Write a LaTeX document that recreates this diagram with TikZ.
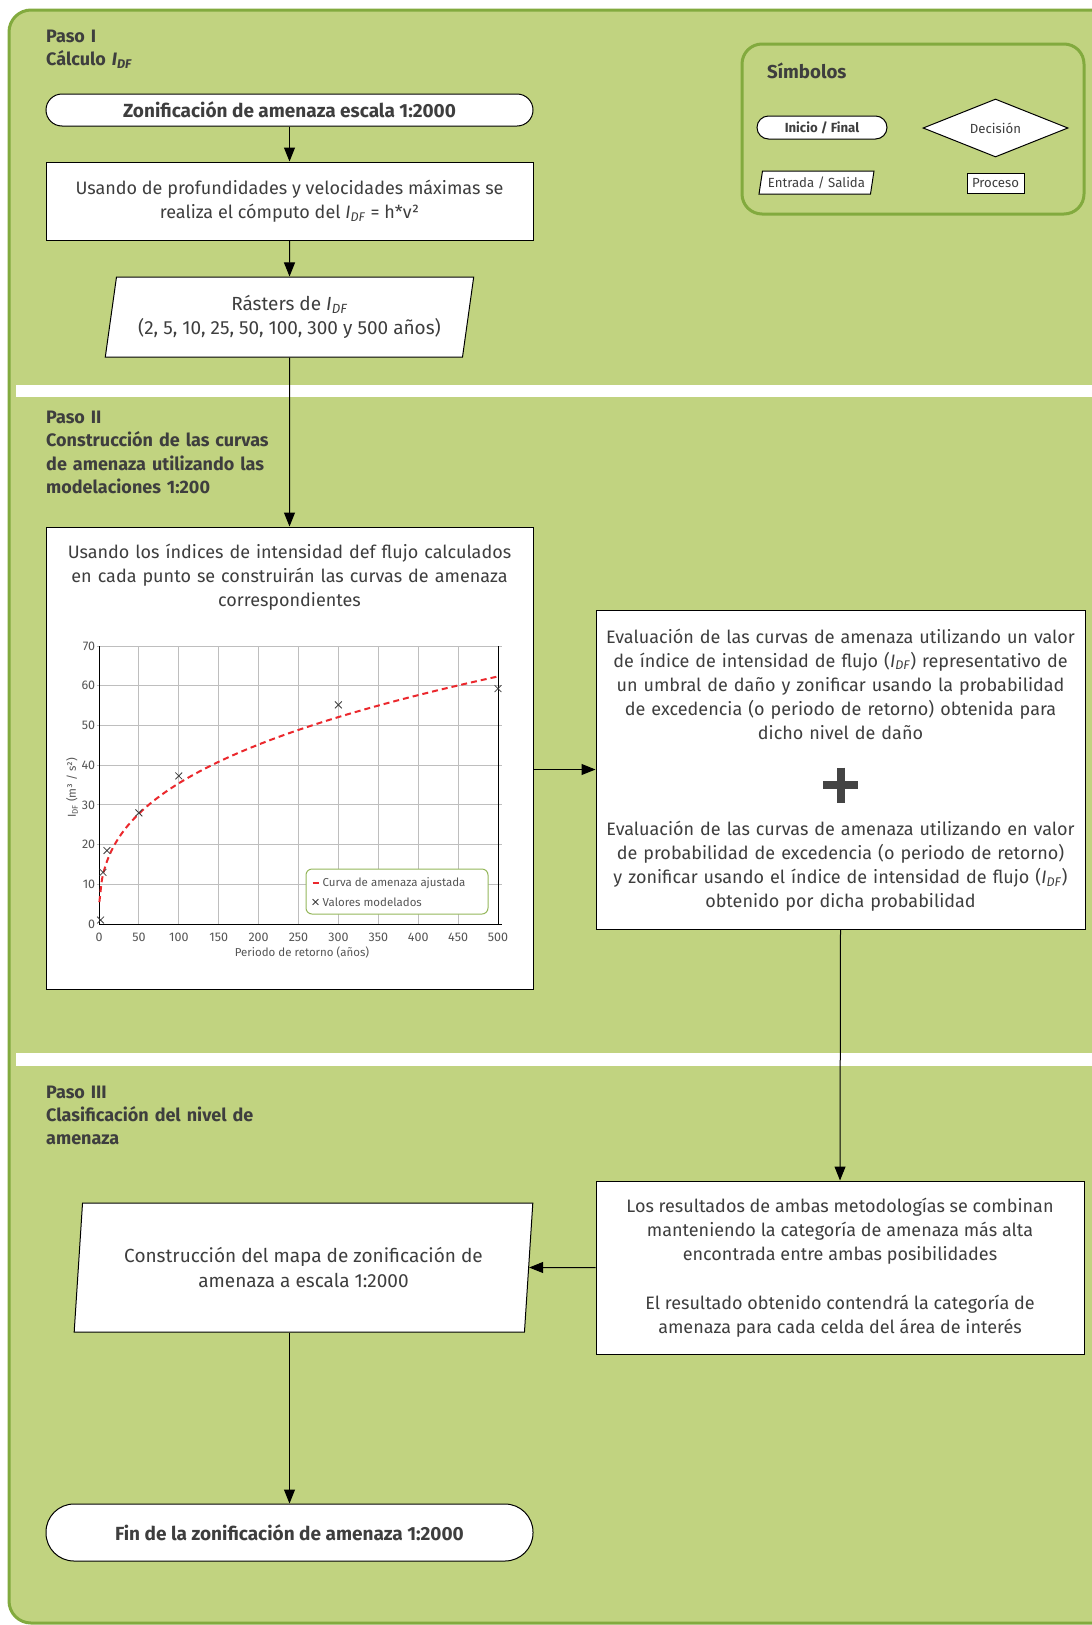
\documentclass[tikz,border=0pt]{standalone}
\usepackage{fontspec}
\setmainfont{Fira Sans}
\usetikzlibrary{arrows.meta,calc,shapes.geometric,shapes.misc}
\definecolor{bggreen}{RGB}{193,211,128}
\definecolor{framegreen}{RGB}{130,170,62}
\definecolor{txtgray}{RGB}{62,62,62}
\definecolor{curvered}{RGB}{235,40,45}
\definecolor{gridgray}{RGB}{190,190,190}
\definecolor{tickgray}{RGB}{85,85,85}
\definecolor{plusgray}{RGB}{68,68,68}
\newcommand{\IDF}{\textit{I}\textsubscript{\textit{DF}}}
\begin{document}
\begin{tikzpicture}[x=1pt,y=-1pt,
  arr/.style={-{Triangle[length=14pt,width=11pt]}, line width=1pt, black},
  boxst/.style={draw=black, line width=1pt, fill=white, text=txtgray, align=center, inner sep=0pt, font=\fontsize{18}{24.2}\selectfont},
  termst/.style={boxst, font=\bfseries\fontsize{19}{22}\selectfont},
  bodytext/.style={anchor=base, text width=600pt, align=center, text=txtgray, inner sep=0pt, font=\fontsize{18}{24.2}\selectfont},
  titletext/.style={anchor=base west, text width=320pt, align=left, text=txtgray, inner sep=0pt, font=\bfseries\fontsize{18}{23.3}\selectfont},
  ticklab/.style={text=tickgray, inner sep=0pt, font=\fontsize{12.5}{14}\selectfont},
  legtext/.style={text=tickgray, inner sep=0pt, anchor=west, font=\fontsize{11.5}{13}\selectfont},
  symtext/.style={font=\fontsize{13.2}{15}\selectfont},
  xmark/.style={cross out, draw=txtgray, minimum size=6pt, inner sep=0pt, line width=0.8pt},
  iost/.style={boxst, trapezium, trapezium stretches=true, font=\fontsize{19}{24.2}\selectfont}
]
\useasboundingbox (0,0) rectangle (1092,1625);
\clip (0,0) rectangle (1092,1625);
\fill[white] (0,0) rectangle (1092,1625);
\draw[framegreen, line width=3pt, fill=bggreen, rounded corners=22pt] (9,10) rectangle (1130,1623);
\fill[white] (16,385) rectangle (1092,397);
\fill[white] (16,1053) rectangle (1092,1066);

% section titles
\node[titletext] (t1) at (46,42) {Paso I\\Cálculo \IDF};
\node[titletext] (t2) at (46,423.5) {Paso II\\Construcción de las curvas\\de amenaza utilizando las\\modelaciones 1:200};
\node[titletext] (t3) at (46,1098) {Paso III\\Clasificación del nivel de\\amenaza};

% symbols legend
\node[draw=framegreen, line width=3pt, rounded corners=20pt, minimum width=342pt, minimum height=170pt, inner sep=0pt] (symbox) at (913,129) {};
\node[anchor=base west, text=txtgray, inner sep=0pt, font=\bfseries\fontsize{18.7}{21}\selectfont] (symtitle) at (767,78) {Símbolos};
\node[boxst, rounded corners=11.5pt, minimum width=130pt, minimum height=23pt, font=\bfseries\fontsize{13.2}{15}\selectfont] (syminicio) at (822,127.5) {Inicio / Final};
\node[boxst, diamond, aspect=2.5, minimum width=145pt, minimum height=58pt, symtext] (symdec) at (995.5,128) {Decisión};
\node[iost, trapezium left angle=75.4, trapezium right angle=104.6, minimum width=115pt, minimum height=23pt, symtext] (syment) at (816.5,182.5) {Entrada / Salida};
\node[boxst, minimum width=57pt, minimum height=20pt, symtext] (symproc) at (995.5,183) {Proceso};

% flow nodes
\node[termst, rounded corners=16pt, minimum width=487pt, minimum height=32pt] (start) at (289.5,110) {Zonificación de amenaza escala 1:2000};
\node[boxst, minimum width=487pt, minimum height=78pt] (proc1) at (289.5,201) {Usando de profundidades y velocidades máximas se\\realiza el cómputo del \IDF{} = h*v²};
\node[iost, trapezium left angle=77.3, trapezium right angle=102.7, minimum width=369pt, minimum height=80pt] (io1) at (289.5,317) {Rásters de \IDF\\(2, 5, 10, 25, 50, 100, 300 y 500 años)};
\node[boxst, minimum width=487pt, minimum height=462pt] (proc2) at (289.5,758) {};
\node[bodytext] (proc2text) at (289.5,558) {Usando los índices de intensidad def flujo calculados\\en cada punto se construirán las curvas de amenaza\\correspondientes};

% chart
\begin{scope}[shift={(99,924)}, x=0.798pt, y=3.97pt]
  \foreach \t in {50,100,...,450} \draw[gridgray, line width=1pt] (\t,0) -- (\t,70);
  \foreach \v in {10,20,...,70} \draw[gridgray, line width=1pt] (-3,\v) -- (505,\v);
  \draw[black, line width=1pt] (0,70) -- (0,0) -- (505,0);
  \draw[black, line width=1pt] (500,0) -- (500,70);
  \foreach \v in {0,10,...,70} \node[ticklab, anchor=east] (yt\v) at (-4.5,\v) {\v};
  \foreach \t in {0,50,...,500} \node[ticklab, anchor=north] (xt\t) at (\t,-2.2) {\t};
  \draw[curvered, line width=2pt, dash pattern=on 6pt off 4pt] plot[domain=0.5:500, samples=160, smooth] (\x,{7.04*pow(\x,0.351)});
  \foreach \t/\v [count=\i] in {2/1, 5/13, 10/18.5, 50/28, 100/37.3, 300/55.2, 500/59.3}
    \node[xmark] (mk\i) at (\t,\v) {};
\end{scope}
\node[ticklab, font=\fontsize{11.5}{13}\selectfont, rotate=90] (ytitle) at (72,788) {I\textsubscript{DF} (m³ / s²)};
\node[ticklab, font=\fontsize{11.5}{13}\selectfont] (xtitle) at (302,952) {Periodo de retorno (años)};
\node[draw=framegreen!85!white, fill=white, line width=1pt, rounded corners=6pt, minimum width=182pt, minimum height=45pt, inner sep=0pt] (chartleg) at (397,891.5) {};
\draw[curvered, line width=1.5pt] ($(chartleg.west)+(7,-8.5)$) -- ($(chartleg.west)+(13,-8.5)$);
\node[legtext] (legc) at (322.5,883) {Curva de amenaza ajustada};
\node[xmark, minimum size=5pt] (legx) at (315.5,902) {};
\node[legtext] (legv) at (322.5,902) {Valores modelados};

% right column
\node[boxst, minimum width=489pt, minimum height=319pt] (eval) at (840.5,769.5) {};
\node[bodytext] (evaltop) at (840.5,643) {Evaluación de las curvas de amenaza utilizando un valor\\de índice de intensidad de flujo (\IDF) representativo de\\un umbral de daño y zonificar usando la probabilidad\\de excedencia (o periodo de retorno) obtenida para\\dicho nivel de daño};
\draw[plusgray, line width=8pt] ($(eval.center)+(-17.5,15.5)$) -- ($(eval.center)+(17.5,15.5)$);
\draw[plusgray, line width=8pt] ($(eval.center)+(0,-2)$) -- ($(eval.center)+(0,33)$);
\node[bodytext] (evalbot) at (840.5,835) {Evaluación de las curvas de amenaza utilizando en valor\\de probabilidad de excedencia (o periodo de retorno)\\y zonificar usando el índice de intensidad de flujo (\IDF)\\obtenido por dicha probabilidad};

\node[boxst, minimum width=488pt, minimum height=173pt] (comb) at (840,1267.5) {Los resultados de ambas metodologías se combinan\\manteniendo la categoría de amenaza más alta\\encontrada entre ambas posibilidades\\[24.2pt]El resultado obtenido contendrá la categoría de\\amenaza para cada celda del área de interés};

\node[iost, trapezium left angle=80.3, trapezium right angle=99.7, minimum width=459pt, minimum height=129pt] (io2) at (303.5,1267.5) {Construcción del mapa de zonificación de\\amenaza a escala 1:2000};
\node[termst, rounded corners=28pt, minimum width=487pt, minimum height=57pt] (endn) at (289.5,1532.5) {Fin de la zonificación de amenaza 1:2000};

% connectors
\draw[arr] (start.south) -- (proc1.north);
\draw[arr] (proc1.south) -- (io1.north);
\draw[arr] (io1.south) -- (proc2.north);
\draw[arr] (proc2.east |- eval.west) -- (eval.west);
\draw[arr] (eval.south) -- (comb.north);
\draw[arr] (comb.west) -- (io2.east);
\draw[arr] (endn.north |- io2.south) -- (endn.north);
\end{tikzpicture}
\end{document}
